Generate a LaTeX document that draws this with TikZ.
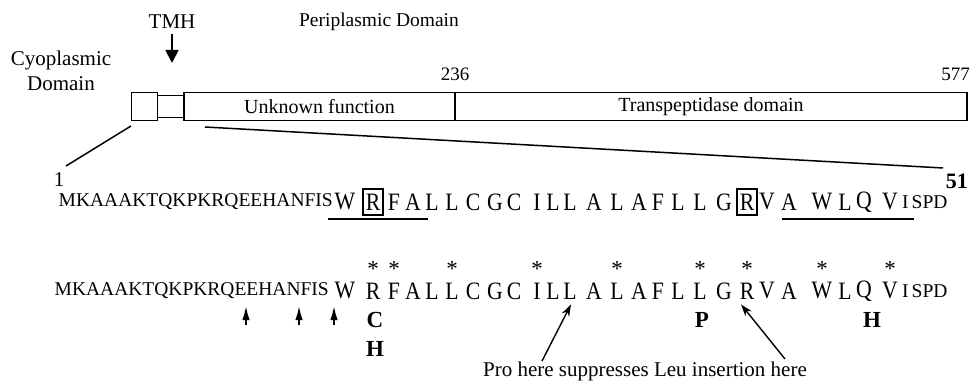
\documentclass[tikz,border=0pt]{standalone}
\usepackage{graphicx}
\usepackage{fontspec}
\setmainfont{Liberation Serif}
\usetikzlibrary{arrows.meta}
\newcommand{\fs}[1]{\fontsize{#1}{#1}\selectfont}
\newcommand{\narrow}[1]{\scalebox{0.87}[1]{#1}}

\begin{document}
\begin{tikzpicture}[x=1pt,y=-1pt,
  lbl/.style={font=\fs{21},inner sep=0pt},
  num/.style={font=\fs{19},inner sep=0pt},
  dombox/.style={draw,line width=1.4pt,inner sep=0pt,minimum height=28pt,font=\fs{20}},
  bigres/.style={font=\fs{25},inner sep=0pt},
  smallseq/.style={font=\fs{19.5},inner sep=0pt},
  rbox/.style={draw,line width=1.2pt,minimum width=20pt,minimum height=26pt,inner sep=0pt},
  uline/.style={line width=1.5pt},
  zoomline/.style={line width=1.5pt},
  astx/.style={font=\fs{23},inner sep=0pt,anchor=base},
  subst/.style={font=\bfseries\fs{23},inner sep=0pt},
  cleave/.style={line width=1.8pt,-{Latex[length=14pt,width=7.5pt]}},
  callout/.style={line width=1.4pt,-{Stealth[length=12pt,width=8pt]}},
]
\useasboundingbox (0,0) rectangle (971,382);

% ---- domain bar ----
\node[lbl] (tmhl) at (172,22) {TMH};
\node[font=\fs{19.5},inner sep=0pt] (peri) at (379,22) {Periplasmic Domain};
\node[lbl] (cyo1) at (61,60) {Cyoplasmic};
\node[lbl] (cyo2) at (61,84) {Domain};
\node[num] (p236) at (455,74) {236};
\node[num,anchor=east] (p577) at (970,74) {577};

\node[dombox,minimum width=26pt] (cyto) at (144.5,106.5) {};
\node[draw,line width=1.4pt,minimum width=26pt,minimum height=22pt,inner sep=0pt] (tm) at (170.5,106.5) {};
\node[dombox,minimum width=271pt] (unk) at (319.5,106.5) {Unknown function};
\node[dombox,minimum width=512pt] (tp) at (711,106.5) {Transpeptidase domain};

\coordinate (tmtip) at (172,63);
\draw[line width=1.8pt,-{Triangle[length=13pt,width=13pt]}] ([yshift=-5pt]tmhl.south) -- (tmtip);

% ---- zoom lines to the first 51 residues ----
\node[lbl] (n1) at (59,180) {1};
\node[font=\bfseries\fs{22},inner sep=0pt,anchor=east] (n51) at (968,181) {51};
\coordinate (zl1) at (131,126);
\coordinate (zl2) at (66,166);
\coordinate (zr1) at (205,127);
\coordinate (zr2) at (943,168);
\draw[zoomline] (zl1) -- (zl2);
\draw[zoomline] (zr1) -- (zr2);

% ---- sequence rows ----
\node[smallseq,anchor=east] (s1) at (333,202) {MKAAAKTQKPKRQEEHANFIS};
\node[smallseq,anchor=east] (s2) at (329,291) {MKAAAKTQKPKRQEEHANFIS};
\foreach \x/\ltr [count=\i] in {345/W,373/R,394/F,413/A,432/L,452/L,473/C,495/G,514/C,537/I,553/L,570/L,594/A,617/L,639/A,658/F,678/L,700/L,724/G,747/R,767/V,789/A,822/W,845/L,864/Q,890/V}{
  \node[bigres] (a\i) at (\x,202) {\narrow{\ltr}};
  \node[bigres] (b\i) at (\x,291) {\narrow{\ltr}};
}
\node[smallseq,anchor=west] (e1) at (902,202) {I\kern3pt SPD};
\node[smallseq,anchor=west] (e2) at (902,291) {I\kern3pt SPD};

% boxed arginines and underlined stretches
\node[rbox] (bx1) at (a2) {};
\node[rbox] (bx2) at (a20) {};
\coordinate (u1a) at (328,219);
\coordinate (u1b) at (428,219);
\coordinate (u2a) at (782,219);
\coordinate (u2b) at (914,219);
\draw[uline] (u1a) -- (u1b);
\draw[uline] (u2a) -- (u2b);

% asterisks over positions in row two
\foreach \k in {2,3,6,10,14,18,20,23,26}{
  \node[astx] (st\k) at ([yshift=15pt]b\k.center) {*};
}

% substitutions
\node[subst] (c2) at (375,320) {C};
\node[subst] (h2) at (375,349) {H};
\node[subst] (p18) at (702,320) {P};
\node[subst] (h25) at (872,320) {H};

% cleavage marks
\foreach \x [count=\j] in {246,299,334}{
  \coordinate (cvb\j) at (\x,325);
  \coordinate (cvt\j) at (\x,306);
  \draw[cleave] (cvb\j) -- (cvt\j);
}

% callout
\node[lbl,anchor=base] (pro) at (645,376) {Pro here suppresses Leu insertion here};
\coordinate (pa) at (542,361);
\coordinate (pb) at (785,359);
\draw[callout] (pa) -- ([xshift=1pt,yshift=-5pt]b12.south);
\draw[callout] (pb) -- ([xshift=-6pt,yshift=-5pt]b20.south);
\end{tikzpicture}
\end{document}
